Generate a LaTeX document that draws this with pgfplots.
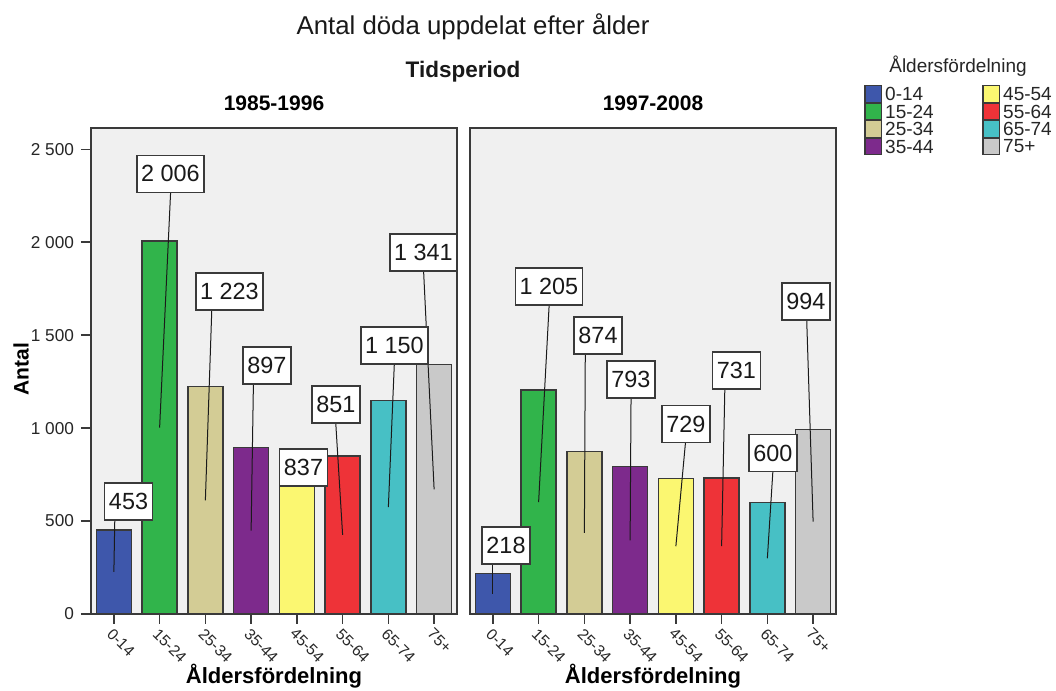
\documentclass[border=0pt]{standalone}
\usepackage{fontspec}
\setmainfont{Liberation Sans}
\usepackage{pgfplots}
\usepackage{pgfplotstable}
\pgfplotsset{compat=1.18}

% SPSS-style category colours
\definecolor{c0}{HTML}{3E57AB}
\definecolor{c1}{HTML}{31B44B}
\definecolor{c2}{HTML}{D3CC95}
\definecolor{c3}{HTML}{7D2A8C}
\definecolor{c4}{HTML}{FBF771}
\definecolor{c5}{HTML}{EE3338}
\definecolor{c6}{HTML}{47C0C5}
\definecolor{c7}{HTML}{C9C9C9}
\definecolor{panelbg}{HTML}{F0F0F0}
\definecolor{frame}{HTML}{3A3A3A}
\definecolor{leader}{HTML}{1A1A1A}

% x = age group, v = deaths, lx/ly = centre of the value box, ax = where the leader meets the box
\pgfplotstableread{
x v lx ly ax
0 453 0.320 605 0.02
1 2006 1.238 2368 1.24
2 1223 2.527 1735 2.14
3 897 3.347 1337 3.05
4 837 4.145 788 4.145
5 851 4.855 1127 4.85
6 1150 6.134 1445 6.13
7 1341 6.768 1945 6.77
}\tabA

\pgfplotstableread{
x v lx ly ax
0 218 0.287 369 0.0
1 1205 1.227 1762 1.23
2 874 2.298 1499 2.02
3 793 3.019 1262 3.02
4 729 4.221 1022 4.21
5 731 5.325 1310 5.07
6 600 6.123 866 6.12
7 994 6.844 1682 6.86
}\tabB

\tikzset{
  labelbox/.style={draw=frame, line width=0.75pt, fill=white, inner xsep=2.2pt, inner ysep=0pt,
    minimum height=18.5pt, anchor=center, font=\fontsize{11.7}{13}\selectfont, text=black!90},
}

\pgfplotsset{
  /pgf/number format/1000 sep={\ },
  /pgf/number format/assume math mode=true,
  panel/.style={
    scale only axis, width=183pt, height=243pt,
    xmin=-0.5, xmax=7.5, ymin=0, ymax=2615,
    axis background/.style={fill=panelbg},
    axis line style={draw=frame, line width=1pt},
    tick align=outside, major tick length=5pt, tick pos=left,
    tick style={draw=frame, line width=0.8pt},
    xtick={0,...,7},
    xticklabels={0-14,15-24,25-34,35-44,45-54,55-64,65-74,75+},
    xticklabel style={font=\fontsize{7.8}{9}\selectfont, rotate=-45, anchor=north west, inner sep=1pt, text=black!85},
    yticklabel style={font=\fontsize{8.6}{10}\selectfont, text=black!85},
    xlabel={Åldersfördelning},
    xlabel style={font=\bfseries\fontsize{11}{13}\selectfont, at={(axis description cs:0.5,-0.142)}, anchor=base},
    title style={font=\bfseries\fontsize{10.5}{12}\selectfont, at={(axis description cs:0.5,1.0123)}, anchor=base},
  },
}

\begin{document}
\begin{tikzpicture}
\useasboundingbox (0,0) rectangle (528pt,345.5pt);

% ---------------- 1985-1996 ----------------
\begin{axis}[panel, at={(45.5pt,38.5pt)}, anchor=south west,
  title={1985-1996},
  ytick={0,500,1000,1500,2000,2500},
  ylabel={Antal},
  ylabel style={font=\bfseries\fontsize{10.5}{12}\selectfont, at={(axis description cs:-0.191,0.504)}, anchor=center},
]
\pgfplotsinvokeforeach{0,...,7}{
  \addplot[ybar, bar width=17.5pt, bar shift=0pt, fill=c#1, draw=frame, line width=0.7pt, forget plot,
    x filter/.expression={abs(x-#1)<0.1 ? x : nan}] table[x=x, y=v] {\tabA};
}
% leaders from the middle of each bar to its value box
\addplot[leader, line width=0.5pt, -, forget plot, skip coords between index={4}{5},
  quiver={u=\thisrow{ax}-\thisrow{x}, v=\thisrow{ly}-99.5-\thisrow{v}/2}]
  table[x=x, y expr=\thisrow{v}/2] {\tabA};
\addplot[draw=none, mark=none, forget plot, point meta=\thisrow{v},
  nodes near coords={\pgfmathprintnumber{\pgfplotspointmeta}},
  every node near coord/.append style={labelbox}]
  table[x=lx, y=ly] {\tabA};
\end{axis}

% ---------------- 1997-2008 ----------------
\begin{axis}[panel, at={(235pt,38.5pt)}, anchor=south west,
  title={1997-2008},
  ytick=\empty,
]
\pgfplotsinvokeforeach{0,...,7}{
  \addplot[ybar, bar width=17.5pt, bar shift=0pt, fill=c#1, draw=frame, line width=0.7pt, forget plot,
    x filter/.expression={abs(x-#1)<0.1 ? x : nan}] table[x=x, y=v] {\tabB};
}
\addplot[leader, line width=0.5pt, -, forget plot,
  quiver={u=\thisrow{ax}-\thisrow{x}, v=\thisrow{ly}-99.5-\thisrow{v}/2}]
  table[x=x, y expr=\thisrow{v}/2] {\tabB};
\addplot[draw=none, mark=none, forget plot, point meta=\thisrow{v},
  nodes near coords={\pgfmathprintnumber{\pgfplotspointmeta}},
  every node near coord/.append style={labelbox}]
  table[x=lx, y=ly] {\tabB};
\end{axis}

% titles
\node[anchor=base, font=\fontsize{12.9}{15}\selectfont, text=black!90] at (236.5pt,328pt) {Antal döda uppdelat efter ålder};
\node[anchor=base, font=\bfseries\fontsize{11.25}{13}\selectfont, text=black!90] at (231.5pt,306.5pt) {Tidsperiod};

% legend: two columns of swatches, filled column by column
\node[anchor=base, font=\fontsize{9.5}{11}\selectfont, text=black!85] at (479pt,309.2pt) {Åldersfördelning};
\foreach \c/\col/\row/\lab in {c0/0/0/0-14, c1/0/1/15-24, c2/0/2/25-34, c3/0/3/35-44,
                               c4/1/0/45-54, c5/1/1/55-64, c6/1/2/65-74, c7/1/3/75+}{
  \filldraw[fill=\c, draw=frame, line width=0.6pt]
    ({432.5pt+\col*59pt}, {298.5pt-\row*8.75pt-4.2pt}) rectangle +(8.4pt,8.4pt);
  \node[anchor=west, inner sep=0pt, font=\fontsize{9.5}{11}\selectfont, text=black!85]
    at ({432.5pt+\col*59pt+9.9pt}, {298.5pt-\row*8.75pt}) {\lab};
}
\end{tikzpicture}
\end{document}
